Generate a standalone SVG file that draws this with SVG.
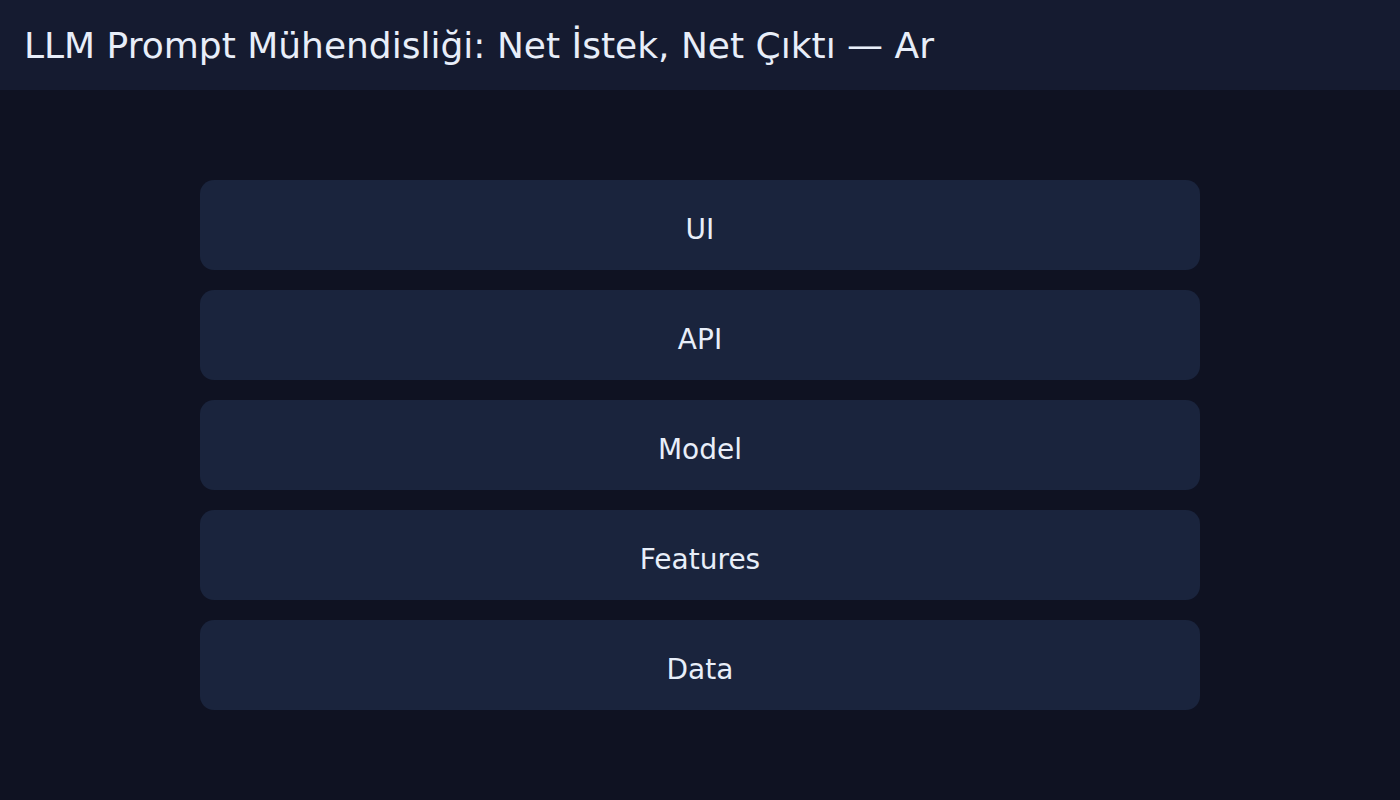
<svg xmlns="http://www.w3.org/2000/svg" width="1400" height="800" viewBox="0 0 1400 800">
<style>
.bg{fill:#0f1222}
.hdr{fill:#151b30}
.title{font-family:"DejaVu Sans",sans-serif;font-size:36px;fill:#e8eef9}
.box{fill:#1a243d}
.lbl{font-family:"DejaVu Sans",sans-serif;font-size:28px;fill:#e8eef9;text-anchor:middle}
</style>
<rect class="bg" x="0" y="0" width="1400" height="800"/>
<rect class="hdr" x="0" y="0" width="1400" height="90"/>
<text class="title" x="24" y="58">LLM Prompt Mühendisliği: Net İstek, Net Çıktı — Ar</text>
<g id="connectors"></g>
<g id="node-ui"><rect class="box" x="200" y="180" width="1000" height="90" rx="14"/><text class="lbl" x="700" y="239">UI</text></g>
<g id="node-api"><rect class="box" x="200" y="290" width="1000" height="90" rx="14"/><text class="lbl" x="700" y="349">API</text></g>
<g id="node-model"><rect class="box" x="200" y="400" width="1000" height="90" rx="14"/><text class="lbl" x="700" y="459">Model</text></g>
<g id="node-features"><rect class="box" x="200" y="510" width="1000" height="90" rx="14"/><text class="lbl" x="700" y="569">Features</text></g>
<g id="node-data"><rect class="box" x="200" y="620" width="1000" height="90" rx="14"/><text class="lbl" x="700" y="679">Data</text></g>
</svg>
